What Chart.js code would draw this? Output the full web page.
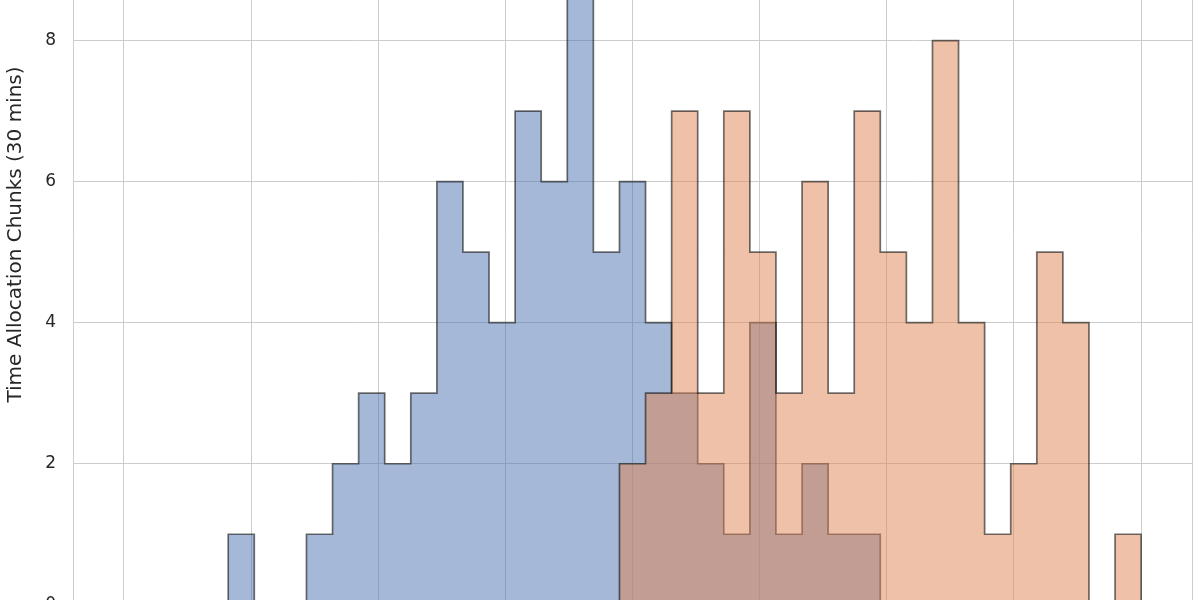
<!DOCTYPE html>
<html>
<head>
<meta charset="utf-8">
<script src="https://cdn.jsdelivr.net/npm/chart.js@4.4.0/dist/chart.umd.min.js"></script>
<style>
    html, body { margin: 0; padding: 0; width: 1200px; height: 600px; overflow: hidden; background: #fff; }
    /* the figure is cropped: axes top and x labels fall outside the window */
    #wrap { position: absolute; left: 0; top: -163px; width: 1200px; height: 795px; }
</style>
</head>
<body>
<div id="wrap"><canvas id="grafico"></canvas></div>
<script>
// ============================================================
// DADOS
// ============================================================

// 39 bins between 0 and 40
const binInicio = 0;
const binLargura = 40 / 39;

const contagemA = [0, 0, 0, 0, 1, 0, 0, 1, 2, 3, 2, 3, 6, 5, 4, 7, 6, 10, 5, 6,
                   4, 3, 2, 1, 4, 1, 2, 1, 1, 0, 0, 0, 0, 0, 0, 0, 0, 0, 0];
const contagemB = [0, 0, 0, 0, 0, 0, 0, 0, 0, 0, 0, 0, 0, 0, 0, 0, 0, 0, 0, 2,
                   3, 7, 3, 7, 5, 3, 6, 3, 7, 5, 4, 8, 4, 1, 2, 5, 4, 0, 1];

const xTicks = [0, 5, 10, 15, 20, 25, 30, 35, 40];
const yTicks = [0, 2, 4, 6, 8, 10];
const xMin = -2, xMax = 42;
const yMin = 0, yMax = 10.5;

// Turns counts into the points of a step outline
function pontosDegrau(contagem) {
    const pts = [{ x: binInicio, y: 0 }];
    contagem.forEach((c, k) => pts.push({ x: binInicio + k * binLargura, y: c }));
    pts.push({ x: binInicio + contagem.length * binLargura, y: 0 });
    return pts;
}

// ============================================================
// GRÁFICO
// ============================================================

Chart.defaults.font.family = "'DejaVu Sans', sans-serif";
Chart.defaults.color = '#262626';

const grade = '#cccccc';

new Chart(document.getElementById('grafico'), {
    type: 'line',
    data: {
        datasets: [
            {
                data: pontosDegrau(contagemA),
                stepped: 'before',
                fill: 'origin',
                backgroundColor: 'rgba(76, 114, 176, 0.5)',
                borderColor: 'rgba(0, 0, 0, 0.55)',
                borderWidth: 1.7,
                pointRadius: 0,
                order: 2
            },
            {
                data: pontosDegrau(contagemB),
                stepped: 'before',
                fill: 'origin',
                backgroundColor: 'rgba(221, 132, 82, 0.5)',
                borderColor: 'rgba(0, 0, 0, 0.55)',
                borderWidth: 1.7,
                pointRadius: 0,
                order: 1
            }
        ]
    },
    options: {
        responsive: true,
        maintainAspectRatio: false,
        animation: false,
        layout: { padding: { top: 12, right: 8, left: 0, bottom: 0 } },
        plugins: { legend: { display: false }, tooltip: { enabled: false } },
        scales: {
            x: {
                type: 'linear',
                min: xMin,
                max: xMax,
                afterBuildTicks: s => { s.ticks = [...xTicks, xMax].map(v => ({ value: v })); },
                afterFit: s => { s.height = 20; },
                ticks: { display: false },
                grid: { color: grade, lineWidth: 1, drawTicks: false },
                border: { display: false }
            },
            y: {
                min: yMin,
                max: yMax,
                afterBuildTicks: s => { s.ticks = yTicks.map(v => ({ value: v })); },
                afterFit: s => { s.width = 73; },
                ticks: { padding: 17, font: { size: 17 } },
                grid: { color: grade, lineWidth: 1, drawTicks: false },
                border: { display: true, color: grade, width: 1 },
                title: {
                    display: true,
                    text: 'Time Allocation Chunks (30 mins)',
                    font: { size: 20 },
                    padding: { top: 4, bottom: 0 }
                }
            }
        }
    }
});
</script>
</body>
</html>
